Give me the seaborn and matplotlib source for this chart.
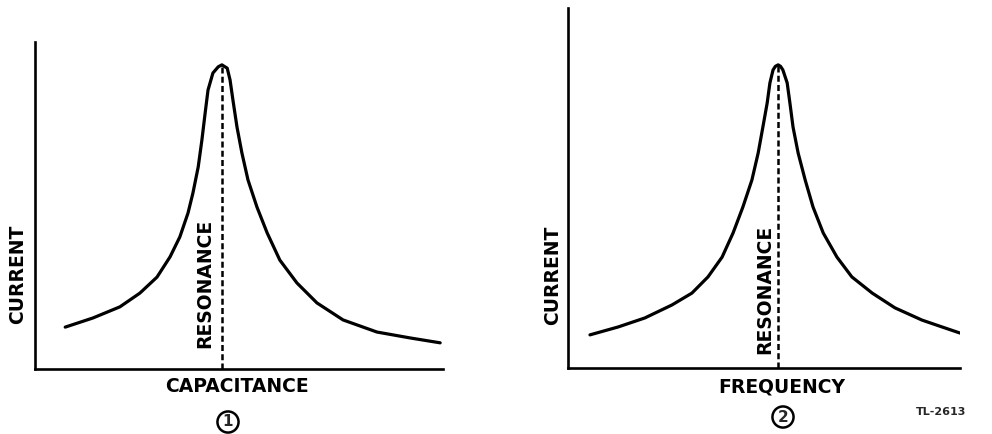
import numpy as np
import pandas as pd
import matplotlib
matplotlib.use("Agg")
import matplotlib.pyplot as plt
import seaborn as sns

# ---- data (axis units 0-100) ----
cap_x = [7.4, 14.2, 20.8, 25.7, 29.9, 33.1, 35.5, 37.5, 38.7, 40.0, 40.9, 41.7, 42.4,
         43.6, 44.9, 45.8, 47.1, 47.8, 48.5, 49.5, 50.7, 52.2, 54.4, 56.9, 60.0,
         64.2, 69.1, 75.5, 83.8, 91.9, 99.3]
cap_current = [12.8, 15.6, 19.0, 23.2, 28.1, 34.3, 40.4, 47.7, 53.8, 61.8, 70.0, 78.3, 85.3,
               90.5, 92.4, 93.0, 92.0, 88.4, 82.3, 74.0, 66.1, 57.8, 49.5, 41.6, 33.3,
               26.3, 20.2, 15.0, 11.3, 9.5, 8.0]

freq_x = [5.6, 12.8, 19.6, 26.5, 31.6, 35.7, 39.3, 42.1, 44.6, 46.9, 48.5, 49.7, 50.8,
          51.5, 52.3, 52.9, 53.6, 54.2, 54.8, 55.9, 56.6, 57.4, 58.7, 60.5, 62.5,
          65.1, 68.6, 72.4, 77.6, 83.4, 90.3, 95.4, 100.0]
freq_current = [9.2, 11.4, 13.9, 17.5, 20.8, 25.3, 30.8, 37.5, 44.7, 52.2, 59.7, 66.9, 73.6,
                79.2, 82.8, 83.8, 84.2, 83.8, 82.8, 79.2, 73.6, 66.9, 59.7, 52.2, 44.7,
                37.5, 30.8, 25.3, 20.8, 16.7, 13.3, 11.4, 9.7]

x_labels = ["CAPACITANCE", "FREQUENCY"]
y_label = "CURRENT"
marker_label = "RESONANCE"
panel_numbers = ["1", "2"]
figure_code = "TL-2613"

sns.set_theme(style="white")
plt.rcParams["font.family"] = ["DejaVu Sans"]

fig = plt.figure(figsize=(9.92, 4.34), dpi=100)
ax1 = fig.add_axes([0.0353, 0.1498, 0.4113, 0.7535])
ax2 = fig.add_axes([0.5726, 0.1521, 0.3952, 0.8295])

panels = [
    (ax1, cap_x, cap_current),
    (ax2, freq_x, freq_current),
]

txt = dict(fontsize=13.5, fontweight="bold", color="black")

for ax, xs, ys in panels:
    df = pd.DataFrame({"x": xs, "y": ys})
    sns.lineplot(data=df, x="x", y="y", ax=ax, sort=False, color="black",
                 linewidth=2.3, solid_joinstyle="round", solid_capstyle="round")
    k = int(np.argmax(ys))
    px, py = xs[k], ys[k]
    ax.plot([px, px], [0, py], color="black", linewidth=1.8,
            linestyle=(0, (2.4, 1.3)))
    ax.set_xlim(0, 100)
    ax.set_ylim(0, 100)
    ax.set_xticks([])
    ax.set_yticks([])
    ax.set_xlabel("")
    ax.set_ylabel("")
    for s in ["top", "right"]:
        ax.spines[s].set_visible(False)
    for s in ["left", "bottom"]:
        ax.spines[s].set_color("black")
        ax.spines[s].set_linewidth(1.9)
    ax.patch.set_alpha(0)

# text placed in figure pixels
def fx(p):
    return p / 992.0

def fy(p):
    return 1 - p / 434.0

fig.text(fx(205), fy(283), marker_label, rotation=90, ha="center", va="center", **txt)
fig.text(fx(765), fy(289), marker_label, rotation=90, ha="center", va="center", **txt)
fig.text(fx(18), fy(274), y_label, rotation=90, ha="center", va="center", **txt)
fig.text(fx(553), fy(275), y_label, rotation=90, ha="center", va="center", **txt)
fig.text(fx(237), fy(387), x_labels[0], ha="center", va="center", **txt)
fig.text(fx(782), fy(387), x_labels[1], ha="center", va="center", **txt)

circ = dict(boxstyle="circle,pad=0.2", fc="white", ec="black", lw=1.8)
fig.text(fx(228), fy(422), panel_numbers[0], ha="center", va="center",
         fontsize=11, fontweight="bold", bbox=circ)
fig.text(fx(783), fy(417), panel_numbers[1], ha="center", va="center",
         fontsize=11, fontweight="bold", bbox=circ)

fig.text(fx(966), fy(412), figure_code, ha="right", va="center",
         fontsize=8, fontweight="bold")

fig.savefig("out.png", dpi=100, facecolor="white")
